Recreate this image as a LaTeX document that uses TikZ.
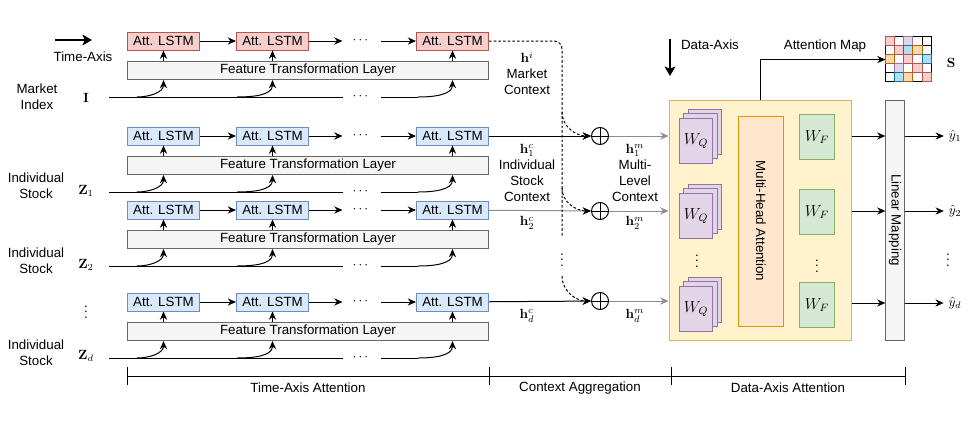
\documentclass[tikz,border=0pt]{standalone}
\usepackage{amsmath}
\usepackage{amssymb}
\usepackage[no-math]{fontspec}
\newfontfamily\helv{Liberation Sans}
\usetikzlibrary{arrows.meta}
\usetikzlibrary{positioning}
\usetikzlibrary{shadows}

\definecolor{redfill}{HTML}{F8CECC}
\definecolor{redline}{HTML}{B85450}
\definecolor{bluefill}{HTML}{DAE8FC}
\definecolor{blueline}{HTML}{6C8EBF}
\definecolor{grayfill}{HTML}{F5F5F5}
\definecolor{grayline}{HTML}{666666}
\definecolor{yellowfill}{HTML}{FFF2CC}
\definecolor{yellowline}{HTML}{D6B656}
\definecolor{orangefill}{HTML}{FFE6CC}
\definecolor{orangeline}{HTML}{D79B00}
\definecolor{purplefill}{HTML}{E1D5E7}
\definecolor{purpleline}{HTML}{9673A6}
\definecolor{greenfill}{HTML}{D5E8D4}
\definecolor{greenline}{HTML}{82B366}
\definecolor{cyanfill}{HTML}{B1DDF0}
\definecolor{cyanline}{HTML}{10739E}
\definecolor{amberfill}{HTML}{FAD7AC}
\definecolor{amberline}{HTML}{B46504}
\definecolor{softline}{HTML}{8C8C8C}

\tikzset{
  every node/.style={font=\helv\fontsize{10}{12}\selectfont},
  arr/.style={-{Stealth[length=6.2pt,width=5.4pt]}},
  bigarr/.style={line width=2.2pt,-{Stealth[length=7pt,width=8pt,inset=1.5pt]}},
  lstm/.style={draw, minimum width=54pt, minimum height=13.5pt, inner sep=0pt},
  lstm red/.style={lstm, fill=redfill, draw=redline},
  lstm blue/.style={lstm, fill=bluefill, draw=blueline},
  ftl/.style={draw=grayline, fill=grayfill, minimum width=270.75pt,
    minimum height=13.5pt, inner sep=0pt},
  hdots/.style={minimum width=27.75pt, inner sep=0pt},
  oplus/.style={circle, draw, minimum size=12.75pt, inner sep=0pt,
    path picture={\draw (path picture bounding box.north) -- (path picture bounding box.south)
      (path picture bounding box.west) -- (path picture bounding box.east);}},
  ctx/.style={dash pattern=on 2pt off 1.5pt},
  dax/.style={draw=yellowline, fill=yellowfill, minimum width=136.5pt,
    minimum height=180pt, inner sep=0pt},
  wq/.style={draw=purpleline, fill=purplefill, minimum width=25pt, minimum height=33.75pt,
    inner sep=0pt, font=\fontsize{12}{14}\selectfont,
    double copy shadow={shadow xshift=3.4pt, shadow yshift=3.4pt,
      fill=purplefill, draw=purpleline}},
  wf/.style={draw=greenline, fill=greenfill, minimum width=25.7pt, minimum height=33.75pt,
    inner sep=0pt, font=\fontsize{12}{14}\selectfont},
  mha/.style={draw=orangeline, fill=orangefill, minimum width=157.5pt,
    minimum height=34pt, inner sep=0pt, rotate=-90},
  linmap/.style={draw=grayline, fill=grayfill, minimum width=180pt,
    minimum height=13.7pt, inner sep=0pt, rotate=-90},
}

\begin{document}
\begin{tikzpicture}[x=0.75pt, y=-0.75pt, line width=0.75pt]
  \useasboundingbox (0,0) rectangle (973,425);

  % time axis side
  \coordinate (ta0) at (55,40);
  \coordinate (ta1) at (92,40);
  \draw[bigarr] (ta0) -- (ta1);
  \node (tax) at (83,57) {Time-Axis};

  \foreach \r/\y/\c in {m/41/red, a/136/blue, b/210/blue, d/302/blue}{
    \node[lstm \c] (\r1) at (163.5,\y) {Att. LSTM};
    \node[lstm \c] (\r2) at (272.5,\y) {Att. LSTM};
    \node[hdots] (\r dt) at (361.5,\y) {$\cdots$};
    \node[lstm \c] (\r3) at (452.5,\y) {Att. LSTM};
    \node[ftl] (f\r) at (308,{\y+29.5}) {Feature Transformation Layer};
    \draw[arr] (\r1) -- (\r2);
    \draw[arr] (\r2) -- (\r dt);
    \draw[arr] (\r dt) -- (\r3);
    \draw[arr] (f\r.north -| \r1) -- (\r1);
    \draw[arr] (f\r.north -| \r2) -- (\r2);
    \draw[arr] (f\r.north -| \r3) -- (\r3);
    % input sequence
    \coordinate (\r in) at (109,{\y+56});
    \coordinate (\r k1) at (137,{\y+56});
    \coordinate (\r k2) at (237,{\y+56});
    \coordinate (\r end) at (418,{\y+56});
    \node[hdots] (\r idt) at (361.5,{\y+56}) {$\cdots$};
    \draw (\r in) -- (\r idt);
    \draw (\r idt) -- (\r end);
    \draw[arr] (\r k1) to[out=0, in=-90] (f\r.south -| \r1);
    \draw[arr] (\r k2) to[out=0, in=-90] (f\r.south -| \r2);
    \draw[arr] (\r end) to[out=0, in=-90] (f\r.south -| \r3);
  }

  % inputs
  \node[align=center] (mlab) at (37,97) {Market\\Index};
  \node (minput) at (86,98) {$\mathbf{I}$};
  \node[align=center] (alab) at (36,186) {Individual\\Stock};
  \node (ainput) at (86,191) {$\mathbf{Z}_1$};
  \node[align=center] (blab) at (36,261) {Individual\\Stock};
  \node (binput) at (86,265) {$\mathbf{Z}_2$};
  \node (rowdots) at (86,308) {$\vdots$};
  \node[align=center] (dlab) at (36,353) {Individual\\Stock};
  \node (dinput) at (86,356) {$\mathbf{Z}_d$};

  % context aggregation
  \node[oplus] (c1) at (600,136) {};
  \node[oplus] (c2) at (600,211) {};
  \node[oplus] (cd) at (600,301) {};
  \draw[arr] (a3) -- (c1);
  \draw[arr, softline] (b3) -- (c2);
  \draw[arr] (d3) -- (cd);

  \coordinate (v0) at (562,41);
  \coordinate (v1) at (562,237);
  \coordinate (s1) at (562,112);
  \coordinate (s2) at (562,188);
  \coordinate (s3) at (562,276);
  \node (vdt) at (562,256) {$\vdots$};
  \draw[ctx, rounded corners=6pt] (m3) -- (v0) -- (v1);
  \draw[ctx, arr] (s1) to[out=-90, in=180] (c1);
  \draw[ctx, arr] (s2) to[out=-90, in=180] (c2);
  \draw[ctx, arr] (s3) to[out=-90, in=180] (cd);

  \node[align=center] (hi) at (527,73.5) {$\mathbf{h}^i$\\Market\\Context};
  \node[align=center] (h1c) at (527,172.5) {$\mathbf{h}^c_1$\\Individual\\Stock\\Context};
  \node (h2c) at (527,223) {$\mathbf{h}^c_2$};
  \node (hdc) at (527,316) {$\mathbf{h}^c_d$};
  \node[align=center] (h1m) at (635,172.5) {$\mathbf{h}^m_1$\\Multi-\\Level\\Context};
  \node (h2m) at (635,223) {$\mathbf{h}^m_2$};
  \node (hdm) at (635,316) {$\mathbf{h}^m_d$};

  % data axis attention
  \coordinate (da0) at (670,39);
  \coordinate (da1) at (670,76);
  \draw[bigarr] (da0) -- (da1);
  \node (dalab) at (710,45) {Data-Axis};

  \node[dax] (dax) at (760,220) {};
  \draw[arr, softline] (c1) -- (c1 -| dax.west);
  \draw[arr, softline] (c2) -- (c2 -| dax.west);
  \draw[arr, softline] (cd) -- (cd -| dax.west);

  \node[wq] (wq1) at (696,141) {$W_Q$};
  \node[wq] (wq2) at (696,216) {$W_Q$};
  \node (wqdots) at (697,257) {$\vdots$};
  \node[wq] (wq3) at (696,309) {$W_Q$};
  \node[mha] (mha) at (761,221) {Multi-Head Attention};
  \node[wf] (wf1) at (817,137) {$W_F$};
  \node[wf] (wf2) at (817,212) {$W_F$};
  \node (wfdots) at (817,262) {$\vdots$};
  \node[wf] (wf3) at (817,305) {$W_F$};

  \node[linmap] (lin) at (895,220) {Linear Mapping};
  \node (y1) at (955,136) {$\hat{y}_1$};
  \node (y2) at (955,211) {$\hat{y}_2$};
  \node (ydots) at (948,256) {$\vdots$};
  \node (yd) at (955,303) {$\hat{y}_d$};
  \draw[arr] (y1 -| dax.east) -- (y1 -| lin.south);
  \draw[arr] (y2 -| dax.east) -- (y2 -| lin.south);
  \draw[arr] (yd -| dax.east) -- (yd -| lin.south);
  \draw[arr] (y1 -| lin.north) -- (y1);
  \draw[arr] (y2 -| lin.north) -- (y2);
  \draw[arr] (yd -| lin.north) -- (yd);

  % attention map
  \node[minimum size=34.3pt, inner sep=0pt] (smap) at (908.85,59.55) {};
  \begin{scope}[shift={(smap.north west)}]
    \foreach \i in {0,...,4}
      \foreach \j in {0,...,4}
        \draw ({9.14*\i},{9.14*\j}) rectangle ++(9.14,9.14);
    \foreach \i/\j/\c in {0/0/red, 2/0/purple, 1/1/red, 2/1/cyan, 3/1/amber,
        0/2/amber, 2/2/red, 4/2/cyan, 1/3/purple, 3/3/red,
        1/4/cyan, 2/4/amber, 4/4/red}
      \draw[fill=\c fill, draw=\c line] ({9.14*\i},{9.14*\j}) rectangle ++(9.14,9.14);
  \end{scope}
  \draw[arr] (dax.north) |- (smap.west);
  \node (amap) at (825,46) {Attention Map};
  \node (S) at (951,63) {$\mathbf{S}$};

  % stage brackets
  \coordinate (t0) at (127,376);
  \coordinate (t1) at (489,376);
  \coordinate (t2) at (671,376);
  \coordinate (t3) at (905,376);
  \draw (t0) -- (t3);
  \foreach \t in {t0,t1,t2,t3}
    \draw ([yshift=6.75pt]\t) -- ([yshift=-6.75pt]\t);
  \node (tlab) at (308,388) {Time-Axis Attention};
  \node (clab) at (580,388) {Context Aggregation};
  \node (dlab2) at (788,388) {Data-Axis Attention};
\end{tikzpicture}
\end{document}
